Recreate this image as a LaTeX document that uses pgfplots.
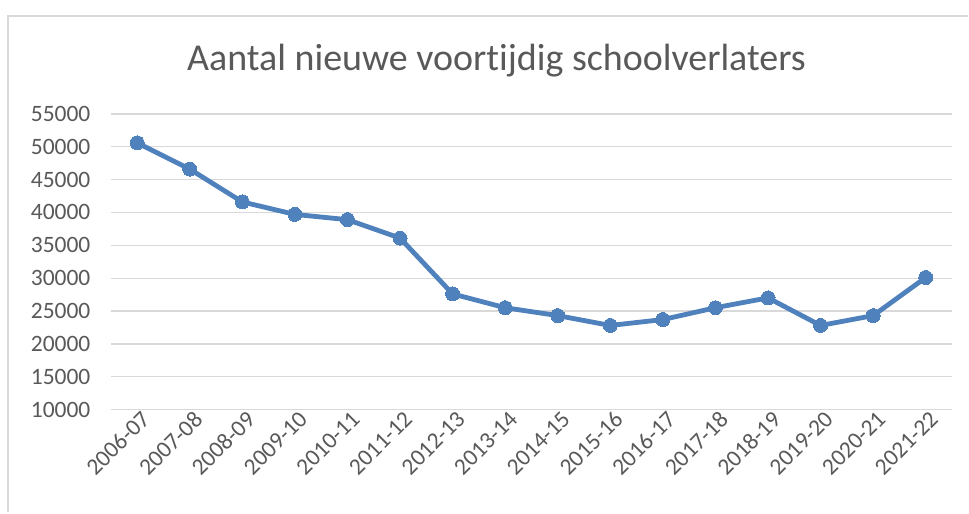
\documentclass[border=0pt]{standalone}
\usepackage{pgfplots}
\pgfplotsset{compat=1.18}
\usepackage{fontspec}
\setmainfont[Ligatures=NoCommon]{Carlito}
\definecolor{serie}{HTML}{4F81BD}
\definecolor{gridc}{HTML}{D9D9D9}
\definecolor{txt}{HTML}{595959}
\begin{document}
\begin{tikzpicture}[x=1pt,y=1pt]
\fill[white] (0,0) rectangle (969,513);
\draw[gridc, line width=2pt] (8,0) -- (8,497) -- (969,497);
\node[txt, font=\fontsize{38}{45}\selectfont] at (497,452) {Aantal nieuwe voort\kern0pt ijdig schoolverlaters};
\begin{axis}[at={(111pt,103pt)}, anchor=south west, scale only axis,
  width=842pt, height=296pt,
  xmin=-0.5, xmax=15.5, ymin=10000, ymax=55000,
  ytick={10000,15000,...,55000},
  xtick={0,...,15},
  xticklabels={2006-07,2007-08,2008-09,2009-10,2010-11,2011-12,2012-13,2013-14,2014-15,2015-16,2016-17,2017-18,2018-19,2019-20,2020-21,2021-22},
  axis line style={draw=none},
  ymajorgrids, grid style={gridc, line width=1.3pt},
  major tick length=0pt,
  tick label style={txt, font=\fontsize{23.5}{28}\selectfont},
  /pgf/number format/assume math mode=true,
  scaled y ticks=false,
  yticklabel style={/pgf/number format/1000 sep={}, xshift=-17pt},
  xticklabel style={rotate=45, anchor=north east, inner sep=2pt, xshift=4pt},
  clip=false]
\addplot[serie, line width=4.8pt, mark=*, mark size=7pt, mark options={fill=serie, draw=serie, line width=0pt}] coordinates {
(0,50600) (1,46600) (2,41600) (3,39700) (4,38900) (5,36100) (6,27600) (7,25500)
(8,24300) (9,22800) (10,23700) (11,25500) (12,27000) (13,22800) (14,24300) (15,30100)
};
\end{axis}
\end{tikzpicture}
\end{document}
